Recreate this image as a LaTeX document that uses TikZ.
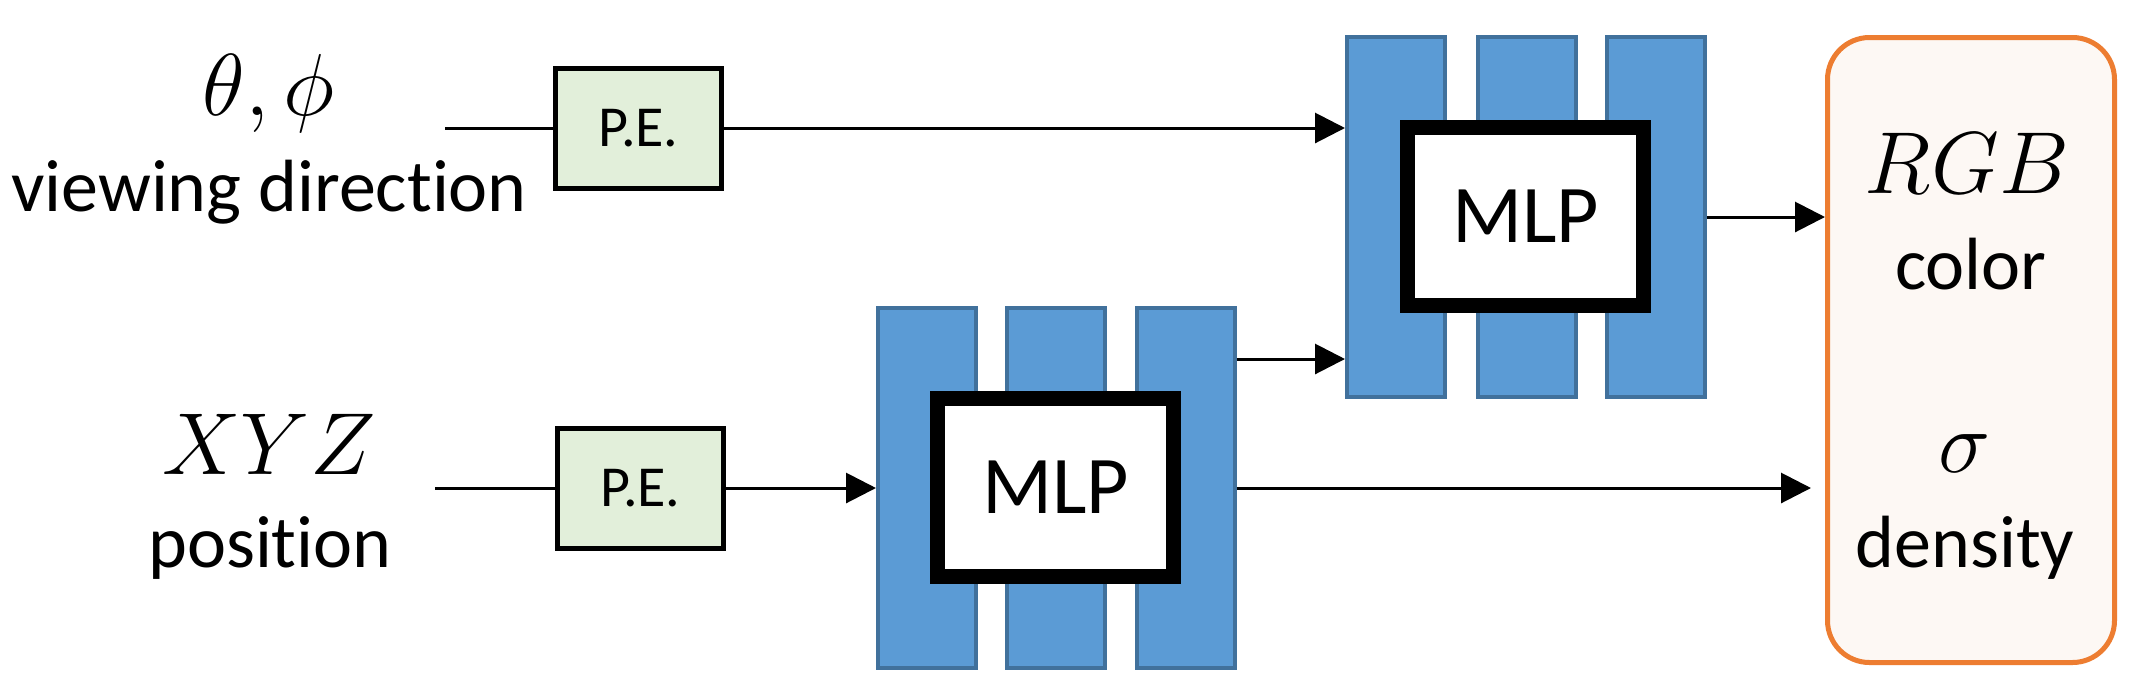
\documentclass[tikz,border=0pt]{standalone}
\usepackage{fix-cm}
\usepackage{fontspec}
\setmainfont{Carlito}[Ligatures=NoCommon]
\usetikzlibrary{arrows.meta}

\definecolor{barfill}{HTML}{5B9BD5}
\definecolor{bardraw}{HTML}{41719C}
\definecolor{pegreen}{HTML}{E2EFDA}
\definecolor{outorange}{HTML}{ED7D31}
\definecolor{outfill}{HTML}{FDF8F4}

\begin{document}
\begin{tikzpicture}[
    x=0.5pt,y=-0.5pt,
    font=\fontsize{37}{44}\selectfont,
    base/.style={rectangle,draw,inner sep=0pt},
    pebox/.style={base,line width=2.5pt,fill=pegreen,minimum width=83pt,minimum height=60pt,font=\fontsize{29}{34}\selectfont},
    bar/.style={base,line width=2pt,draw=bardraw,fill=barfill,minimum width=49pt,minimum height=180pt},
    mlpbox/.style={base,line width=7.5pt,fill=white,minimum width=118pt,minimum height=89pt,font=\fontsize{41}{48}\selectfont},
    outbox/.style={base,line width=2.5pt,draw=outorange,fill=outfill,rounded corners=21pt,minimum width=143.5pt,minimum height=312.5pt},
    txt/.style={anchor=base,inner sep=0pt},
    mathtxt/.style={txt,font=\fontsize{44}{52}\selectfont},
    arr/.style={-{Triangle[length=15pt,width=15pt]},line width=1.5pt}
  ]

  \path[use as bounding box,fill=white] (0,0) rectangle (2133,682);

  % inputs
  \node(dir) [mathtxt] at (269,115) {$\theta,\phi$};
  \node(dirtxt) [txt] at (269,211) {viewing direction};
  \node(xyz) [mathtxt] at (269,474) {$XYZ$};
  \node(postxt) [txt] at (270,567) {position};

  \node(pe1) [pebox] at (638.5,128) {P.E.};
  \node(pe2) [pebox] at (640.5,488) {P.E.};

  % the two networks
  \foreach \i/\x in {1/1396,2/1526.5,3/1655.5}
    \node(u\i) [bar] at (\x,217) {};
  \foreach \i/\x in {1/927,2/1056,3/1185.5}
    \node(l\i) [bar] at (\x,488) {};

  \node(mlp1) [mlpbox] at (1525.5,216.5) {MLP};
  \node(mlp2) [mlpbox] at (1055.5,487) {MLP};

  % outputs
  \node(out) [outbox] at (1971,350) {};
  \node(rgb) [mathtxt] at (1967,193) {$RGB$};
  \node(col) [txt] at (1971,289) {color};
  \node(sig) [mathtxt] at (1965,472) {$\sigma$};
  \node(den) [txt] at (1965,567) {density};

  \coordinate(in1) at (445,128);
  \coordinate(in2) at (435,488);
  \coordinate(feat) at (1236,359);

  \draw[line width=1.5pt] (in1) -- (pe1.west);
  \draw[arr] (pe1.east) -- (pe1.east -| u1.west);
  \draw[line width=1.5pt] (in2) -- (pe2.west);
  \draw[arr] (pe2.east) -- (l1.west);
  \draw[arr] (l3.east |- feat) -- (u1.west |- feat);
  \draw[arr] (u3.east) -- (u3.east -| out.west);
  \draw[arr] (l3.east) -- ([xshift=-7pt]l3.east -| out.west);

\end{tikzpicture}
\end{document}
